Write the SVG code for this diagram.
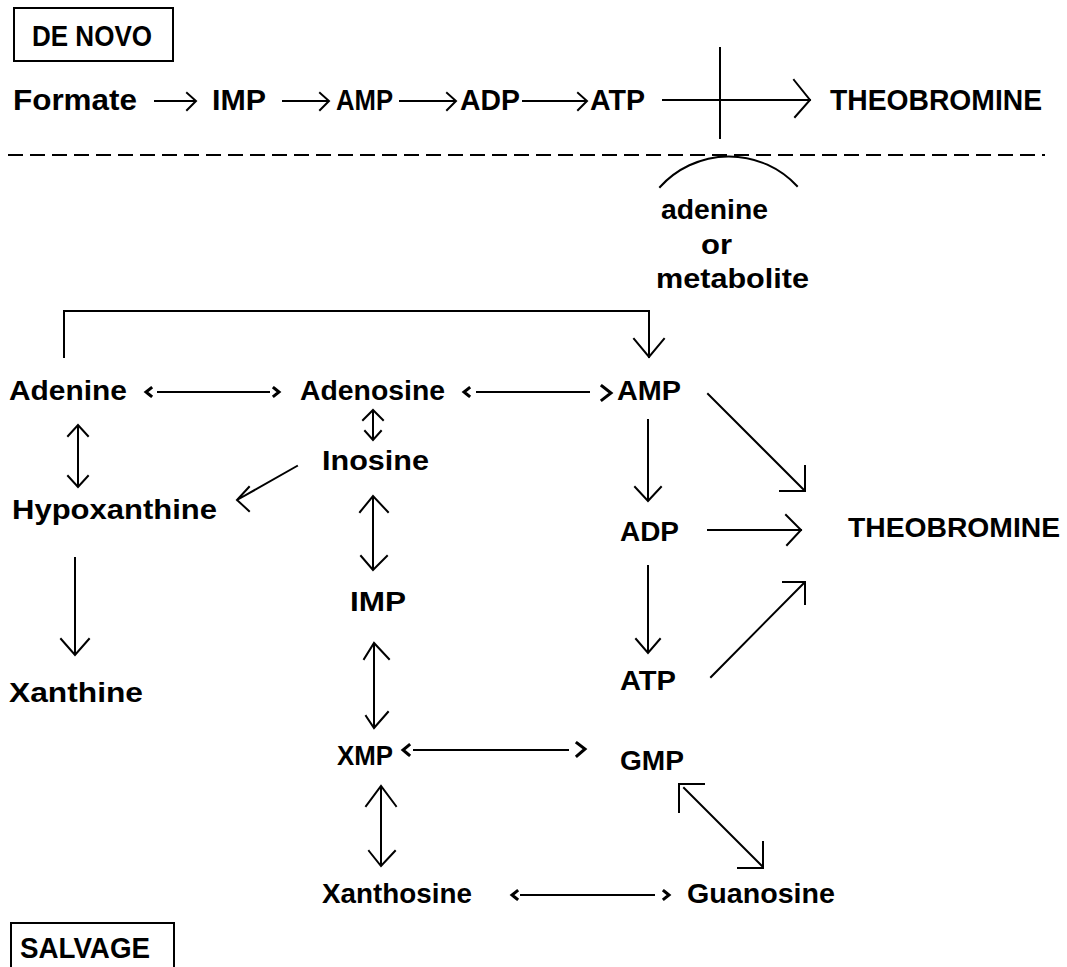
<svg xmlns="http://www.w3.org/2000/svg" width="1067" height="967" viewBox="0 0 1067 967">
<style>
.ln{stroke:#000;stroke-width:2;fill:none;stroke-linecap:square;stroke-linejoin:miter}
.hd{stroke:#000;stroke-width:3;fill:none;stroke-linecap:square;stroke-linejoin:miter}
.t{font-family:"Liberation Sans","DejaVu Sans",Arial,sans-serif;font-weight:bold;fill:#000}
.big{font-size:29px}
.sm{font-size:27px}
.box{stroke:#000;stroke-width:2;fill:none}
.dash{stroke:#000;stroke-width:2;fill:none;stroke-dasharray:15 7}
</style>
<rect width="1067" height="967" fill="#fff"/>

<g id="denovo-label">
<rect class="box" x="14" y="8" width="159" height="53"/>
<text class="t big" x="32" y="46" textLength="120" lengthAdjust="spacingAndGlyphs">DE NOVO</text>
</g>
<g id="salvage-label">
<rect class="box" x="11" y="923" width="163" height="60"/>
<text class="t big" x="20" y="958" textLength="130" lengthAdjust="spacingAndGlyphs">SALVAGE</text>
</g>

<g id="n-formate"><text class="t big" x="13" y="110" textLength="124" lengthAdjust="spacingAndGlyphs">Formate</text></g>
<g id="n-imp-top"><text class="t big" x="212" y="110" textLength="54" lengthAdjust="spacingAndGlyphs">IMP</text></g>
<g id="n-amp-top"><text class="t big" x="336" y="110" textLength="57" lengthAdjust="spacingAndGlyphs">AMP</text></g>
<g id="n-adp-top"><text class="t big" x="460" y="110" textLength="60" lengthAdjust="spacingAndGlyphs">ADP</text></g>
<g id="n-atp-top"><text class="t big" x="590" y="110" textLength="55" lengthAdjust="spacingAndGlyphs">ATP</text></g>
<g id="n-theobromine-top"><text class="t big" x="830" y="110" textLength="212" lengthAdjust="spacingAndGlyphs">THEOBROMINE</text></g>

<g id="n-adenine-metabolite">
<text class="t sm" x="661" y="219" textLength="107" lengthAdjust="spacingAndGlyphs">adenine</text>
<text class="t sm" x="701" y="254" textLength="31" lengthAdjust="spacingAndGlyphs">or</text>
<text class="t sm" x="656" y="288" textLength="153" lengthAdjust="spacingAndGlyphs">metabolite</text>
</g>

<g id="n-adenine"><text class="t sm" x="9" y="400" textLength="118" lengthAdjust="spacingAndGlyphs">Adenine</text></g>
<g id="n-adenosine"><text class="t sm" x="300" y="400" textLength="145" lengthAdjust="spacingAndGlyphs">Adenosine</text></g>
<g id="n-amp"><text class="t sm" x="617" y="400" textLength="64" lengthAdjust="spacingAndGlyphs">AMP</text></g>
<g id="n-inosine"><text class="t sm" x="322" y="470" textLength="107" lengthAdjust="spacingAndGlyphs">Inosine</text></g>
<g id="n-hypoxanthine"><text class="t sm" x="12" y="519" textLength="205" lengthAdjust="spacingAndGlyphs">Hypoxanthine</text></g>
<g id="n-adp"><text class="t sm" x="620" y="541" textLength="59" lengthAdjust="spacingAndGlyphs">ADP</text></g>
<g id="n-theobromine"><text class="t sm" x="848" y="537" textLength="212" lengthAdjust="spacingAndGlyphs">THEOBROMINE</text></g>
<g id="n-imp"><text class="t sm" x="350" y="611" textLength="56" lengthAdjust="spacingAndGlyphs">IMP</text></g>
<g id="n-atp"><text class="t sm" x="620" y="690" textLength="56" lengthAdjust="spacingAndGlyphs">ATP</text></g>
<g id="n-xanthine"><text class="t sm" x="9" y="702" textLength="134" lengthAdjust="spacingAndGlyphs">Xanthine</text></g>
<g id="n-xmp"><text class="t sm" x="337" y="765" textLength="56" lengthAdjust="spacingAndGlyphs">XMP</text></g>
<g id="n-gmp"><text class="t sm" x="620" y="770" textLength="64" lengthAdjust="spacingAndGlyphs">GMP</text></g>
<g id="n-xanthosine"><text class="t sm" x="322" y="903" textLength="150" lengthAdjust="spacingAndGlyphs">Xanthosine</text></g>
<g id="n-guanosine"><text class="t sm" x="687" y="903" textLength="148" lengthAdjust="spacingAndGlyphs">Guanosine</text></g>

<g id="connectors">
<path class="ln" d="M155,101 H195 M187,93 L196,101 L187,110"/>
<path class="ln" d="M283,101 H328 M320,93 L329,101 L320,110"/>
<path class="ln" d="M400,101 H455 M447,93 L456,101 L447,110"/>
<path class="ln" d="M523,101 H586 M578,93 L587,101 L578,110"/>
<path class="ln" d="M663,100 H810 M794,80 L810,100 L795,117"/>
<path class="ln" d="M720,48 V138"/>
<path class="dash" d="M8,155 H1045"/>
<path class="ln" d="M660,187 A93,93 0 0 1 797,186"/>

<path class="ln" d="M64,357 V311 H649 V357 M634,339 L649,357 L664,339"/>

<path class="ln" d="M158,392 H269"/>
<path class="hd" d="M151,388 L146,392 L151,396 M274,388 L279,392 L274,396"/>
<path class="ln" d="M477,392 H589"/>
<path class="hd" d="M469,388 L464,392 L469,396 M602,386 L611,393 L602,400"/>
<path class="ln" d="M373,411 V439 M363,420 L373,410 L383,420 M365,431 L373,440 L381,431"/>
<path class="ln" d="M297,466 L237,500 M249,487 L237,500 L249,511"/>
<path class="ln" d="M78,426 V486 M68,436 L78,425 L88,436 M68,476 L78,487 L88,476"/>
<path class="ln" d="M75,558 V654 M61,639 L75,655 L89,639"/>
<path class="ln" d="M373,497 V569 M360,512 L373,496 L388,512 M361,556 L373,570 L387,556"/>
<path class="ln" d="M374,644 V727 M364,659 L374,643 L389,659 M366,716 L374,728 L388,712"/>
<path class="ln" d="M381,787 V865 M366,806 L381,786 L396,806 M369,851 L381,866 L395,851"/>
<path class="ln" d="M414,750 H568"/>
<path class="hd" d="M409,745 L403,750 L409,755 M577,743 L585,749 L577,756"/>
<path class="ln" d="M521,895 H654"/>
<path class="hd" d="M517,891 L512,895 L517,899 M664,891 L669,895 L664,899"/>
<path class="ln" d="M684,788 L762,866 M704,784 H679 V812 M763,842 V868 H738"/>
<path class="ln" d="M648,420 V500 M635,487 L648,501 L661,487"/>
<path class="ln" d="M648,566 V652 M636,639 L648,653 L660,639"/>
<path class="ln" d="M708,394 L804,490 M805,466 V491 H780"/>
<path class="ln" d="M708,530 H801 M786,515 L801,530 L787,545"/>
<path class="ln" d="M711,677 L804,583 M783,582 H805 V604"/>
</g>
</svg>
